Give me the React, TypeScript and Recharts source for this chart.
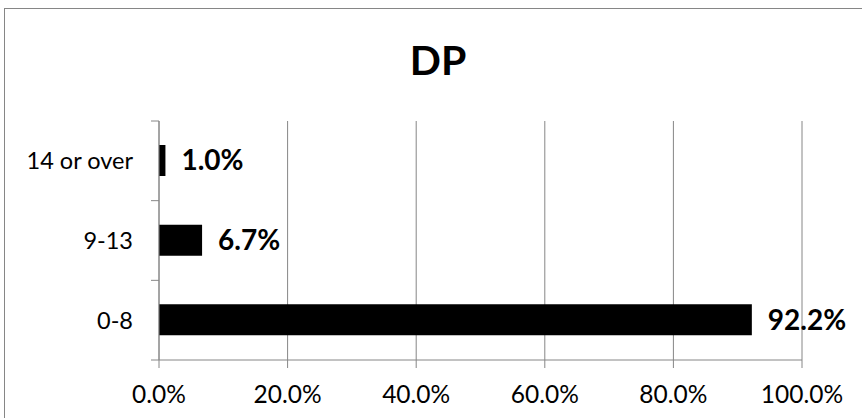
import React from 'react';
import { BarChart, Bar, XAxis, YAxis, CartesianGrid, LabelList } from 'recharts';

const categories = ['14 or over', '9-13', '0-8'];
const values = [1.0, 6.7, 92.2];
const xTicks = [0, 20, 40, 60, 80, 100];
const title = 'DP';

const data = categories.map((c, i) => ({ name: c, value: values[i] }));

const FONT = 'Lato, "Open Sans", sans-serif';
const GRAY = '#868686';
const TICK_SIZE = 8;
const TICK_MARGIN = 18;

function CategoryTick(props: any) {
  const { x, y, payload, index, visibleTicksCount } = props;
  const half = payload && typeof payload.offset === 'number' ? payload.offset : 0;
  const axisX = x + TICK_SIZE + TICK_MARGIN;
  const isLast = index === (visibleTicksCount ?? categories.length) - 1;
  return (
    <g>
      <line x1={axisX - TICK_SIZE} x2={axisX} y1={y - half} y2={y - half} stroke={GRAY} />
      {isLast && <line x1={axisX - TICK_SIZE} x2={axisX} y1={y + half} y2={y + half} stroke={GRAY} />}
      <text x={x} y={y} dy="0.355em" textAnchor="end" fill="#000" fontFamily={FONT} fontSize={23.5}>
        {payload.value}
      </text>
    </g>
  );
}

export default function App() {
  return (
    <div style={{ position: 'absolute', left: 0, top: 0, width: 862, height: 418, overflow: 'hidden', background: '#fff' }}>
      <div style={{ position: 'absolute', left: 4, top: 8, width: 950, height: 600, border: `1px solid ${GRAY}`, boxSizing: 'border-box' }} />
      <svg style={{ position: 'absolute', left: 0, top: 0 }} width={862} height={418}>
        <text x={438} y={75} textAnchor="middle" fontFamily={FONT} fontWeight="bold" fontSize={41} fill="#000">{title}</text>
      </svg>
      <div style={{ position: 'absolute', left: 0, top: 0 }}>
        <BarChart
          width={862}
          height={418}
          data={data}
          layout="vertical"
          margin={{ top: 121, right: 60, bottom: 18, left: 0 }}
          barSize={31}
        >
          <CartesianGrid horizontal={false} vertical={true} stroke={GRAY} strokeWidth={1} />
          <XAxis
            type="number"
            domain={[0, 100]}
            ticks={xTicks}
            interval={0}
            tickFormatter={(v: number) => `${v.toFixed(1)}%`}
            height={40}
            axisLine={{ stroke: GRAY }}
            tickLine={{ stroke: GRAY }}
            tickSize={TICK_SIZE}
            tickMargin={TICK_MARGIN}
            tick={{ fill: '#000', fontFamily: FONT, fontSize: 24.5 }}
          />
          <YAxis
            type="category"
            dataKey="name"
            width={159}
            axisLine={{ stroke: GRAY }}
            tickLine={false}
            tickSize={TICK_SIZE}
            tickMargin={TICK_MARGIN}
            interval={0}
            tick={<CategoryTick />}
          />
          <Bar dataKey="value" fill="#000" isAnimationActive={false}>
            <LabelList
              dataKey="value"
              position="right"
              offset={16}
              formatter={(v: number) => `${Number(v).toFixed(1)}%`}
              style={{ fill: '#000', fontFamily: FONT, fontWeight: 'bold', fontSize: 28 }}
            />
          </Bar>
        </BarChart>
      </div>
    </div>
  );
}
